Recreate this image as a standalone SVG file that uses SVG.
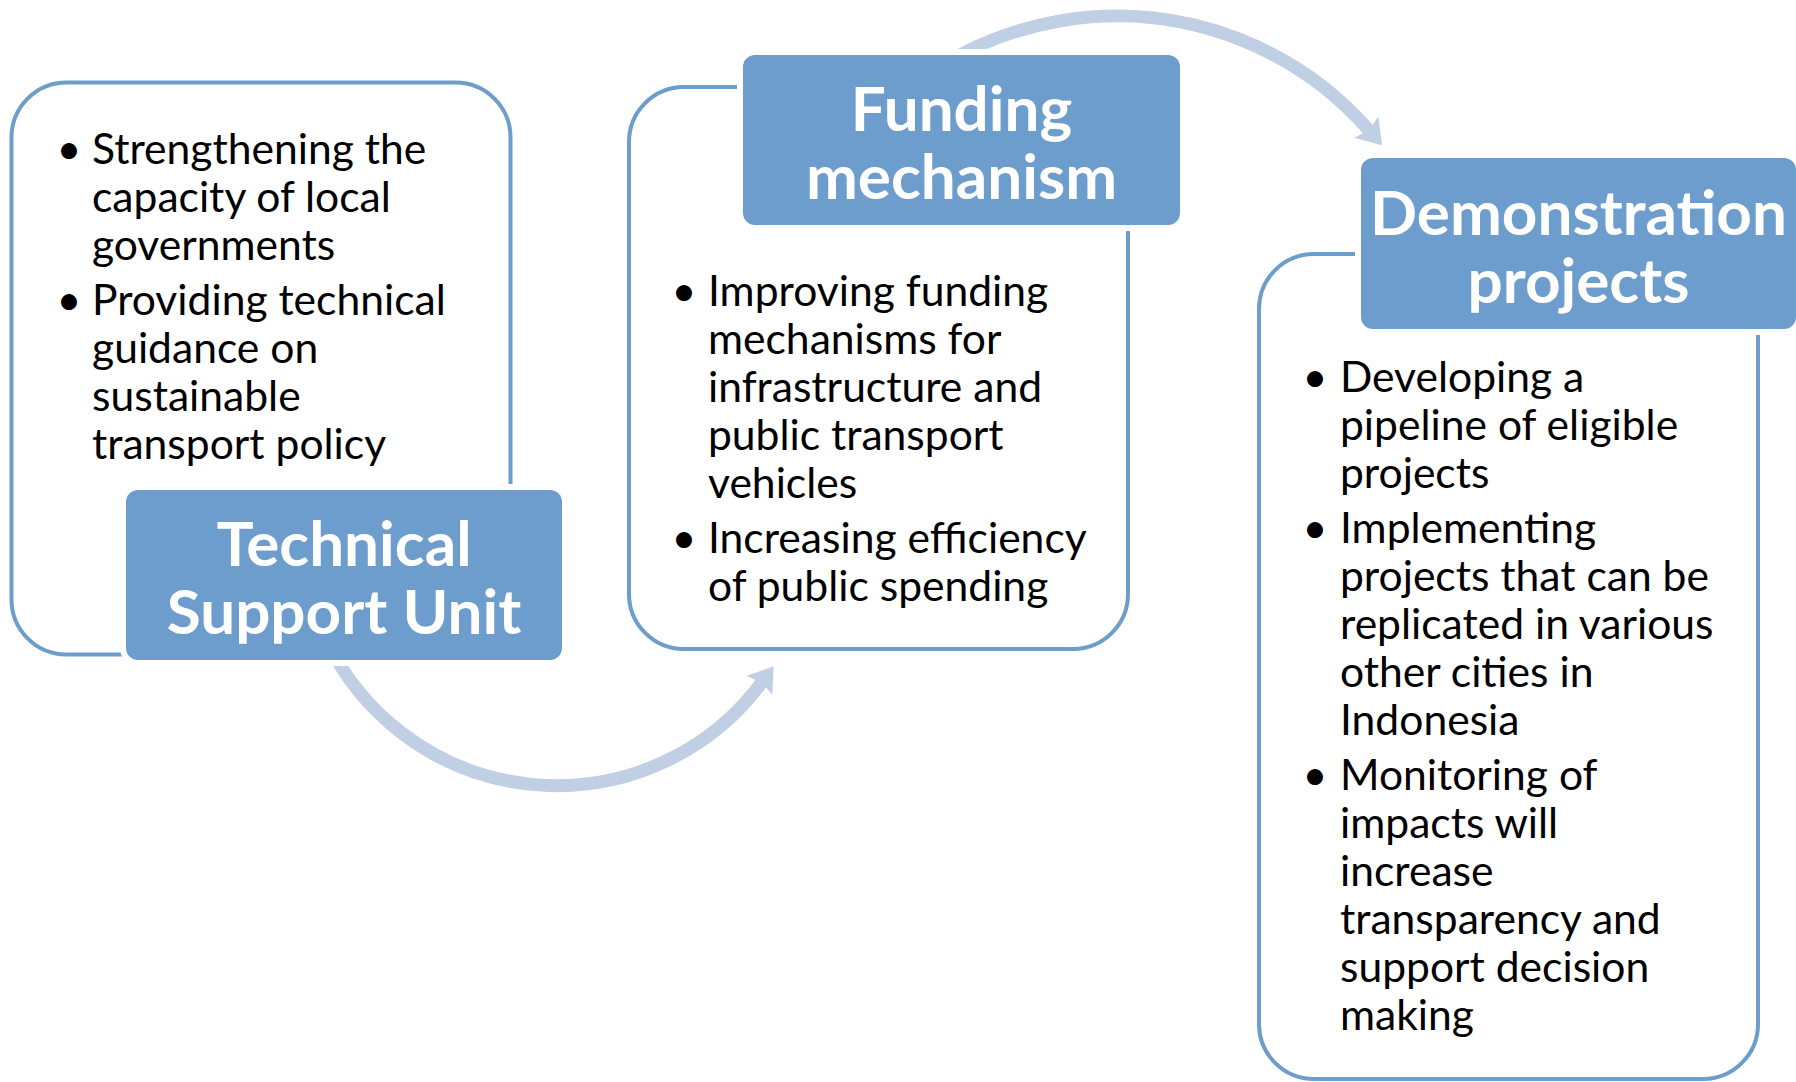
<svg xmlns="http://www.w3.org/2000/svg" width="1796" height="1082" viewBox="0 0 1796 1082">
<style>
.frame{fill:#ffffff;stroke:#6c9dcb;stroke-width:4}
.label{fill:#6c9dcc;stroke:#ffffff;stroke-width:12;paint-order:stroke}
.lt{font-family:Lato,"Open Sans",sans-serif;font-weight:bold;font-size:62px;fill:#ffffff;text-anchor:middle}
.bt{font-family:Lato,"Open Sans",sans-serif;font-size:42.6px;fill:#000000}
.bu{font-family:Lato,"Open Sans",sans-serif;font-size:43px;fill:#000000;text-anchor:middle}
.arc{fill:none;stroke:#c0cfe4;stroke-width:13}
</style>
<defs>
<marker id="head" markerUnits="userSpaceOnUse" markerWidth="30" markerHeight="34" refX="4" refY="16" orient="auto" viewBox="0 0 30 34">
<path d="M0,0 L24,16 L0,32 L4,16 Z" fill="#c0cfe4"/>
</marker>
</defs>
<g id="connectors">
<path class="arc" d="M326.5,640 A255,255 0 0,0 761.8,682.3" marker-end="url(#head)"/>
<path class="arc" d="M803.8,232 A335,335 0 0,1 1368.9,130.2" marker-end="url(#head)"/>
</g>
<g id="node-tsu">
<rect class="frame" x="11.5" y="82.5" width="499" height="572" rx="55"/>
<rect class="label" x="126" y="490" width="436" height="170" rx="12"/>
<text class="lt" x="344" y="566">Technical</text>
<text class="lt" x="344" y="634">Support Unit</text>
<text class="bu" x="69" y="164">•</text>
<text class="bu" x="69" y="315">•</text>
<text class="bt" x="92" y="164">Strengthening the</text>
<text class="bt" x="92" y="212">capacity of local</text>
<text class="bt" x="92" y="260">governments</text>
<text class="bt" x="92" y="315">Providing technical</text>
<text class="bt" x="92" y="363">guidance on</text>
<text class="bt" x="92" y="411">sustainable</text>
<text class="bt" x="92" y="459">transport policy</text>
</g>
<g id="node-funding">
<rect class="frame" x="629" y="87" width="499" height="562" rx="55"/>
<rect class="label" x="743" y="55" width="437" height="170" rx="12"/>
<text class="lt" x="961.5" y="131">Funding</text>
<text class="lt" x="961.5" y="199">mechanism</text>
<text class="bu" x="684" y="306">•</text>
<text class="bu" x="684" y="553">•</text>
<text class="bt" x="708" y="306">Improving funding</text>
<text class="bt" x="708" y="354">mechanisms for</text>
<text class="bt" x="708" y="402">infrastructure and</text>
<text class="bt" x="708" y="450">public transport</text>
<text class="bt" x="708" y="498">vehicles</text>
<text class="bt" x="708" y="553">Increasing efficiency</text>
<text class="bt" x="708" y="601">of public spending</text>
</g>
<g id="node-demo">
<rect class="frame" x="1259" y="254" width="499" height="825" rx="55"/>
<rect class="label" x="1361" y="158" width="435" height="171" rx="12"/>
<text class="lt" x="1578.5" y="235">Demonstration</text>
<text class="lt" x="1578.5" y="303">projects</text>
<text class="bu" x="1315" y="392">•</text>
<text class="bu" x="1315" y="543">•</text>
<text class="bu" x="1315" y="790">•</text>
<text class="bt" x="1340" y="392">Developing a</text>
<text class="bt" x="1340" y="440">pipeline of eligible</text>
<text class="bt" x="1340" y="488">projects</text>
<text class="bt" x="1340" y="543">Implementing</text>
<text class="bt" x="1340" y="591">projects that can be</text>
<text class="bt" x="1340" y="639">replicated in various</text>
<text class="bt" x="1340" y="687">other cities in</text>
<text class="bt" x="1340" y="735">Indonesia</text>
<text class="bt" x="1340" y="790">Monitoring of</text>
<text class="bt" x="1340" y="838">impacts will</text>
<text class="bt" x="1340" y="886">increase</text>
<text class="bt" x="1340" y="934">transparency and</text>
<text class="bt" x="1340" y="982">support decision</text>
<text class="bt" x="1340" y="1030">making</text>
</g>
</svg>
